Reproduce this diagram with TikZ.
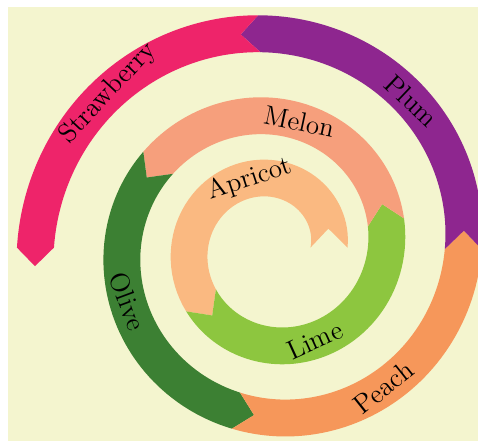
\documentclass[tikz,border=0pt]{standalone}
\usepackage{xcolor}
\usetikzlibrary{calc}
\definecolor{bgcream}{RGB}{244,245,207}
\definecolor{apricot}{HTML}{FAB981}
\definecolor{lime}{HTML}{8DC63F}
\definecolor{melon}{HTML}{F69F7C}
\definecolor{olive}{HTML}{3C8033}
\definecolor{peach}{HTML}{F6975A}
\definecolor{plum}{HTML}{8E268F}
\definecolor{strawberry}{HTML}{EE246A}
\tikzset{
  declare function={spr(\t)=56.6+0.132*\t+0.76*(\t/100)^2;},
  band/.style={draw=none},
  lbl/.style={font=\fontsize{13.5}{16}\selectfont,inner sep=0pt}
}
\begin{document}
\begin{tikzpicture}[x=0.5pt,y=0.5pt]
  \useasboundingbox (-272.4,-193.4) rectangle (205.6,247.6);
  % Background
  \fill[bgcream] (-264.4,-193.4) rectangle (205.6,240.6);

  % Spiral bands with chevron ends and their labels
  \foreach \sa/\sb/\col/\txt in {0/216.5/apricot/Apricot, 216.5/372.5/lime/Lime,
      372.5/503.4/melon/Melon, 503.4/617.4/olive/Olive, 617.4/719.5/peach/Peach,
      719.5/813.5/plum/Plum, 813.5/900/strawberry/Strawberry}{
    \pgfmathsetmacro\da{18.5/spr(\sa)*180/pi}
    \pgfmathsetmacro\db{18.5/spr(\sb)*180/pi}
    \pgfmathsetmacro\mid{(\sa+\sb)/2}
    \pgfmathsetmacro\rot{ifthenelse(sin(\mid)>0,\mid-90,\mid+90)}
    \fill[band,\col]
      plot[domain=\sa:\sb,samples=60,variable=\t] ({(spr(\t)+18.5)*cos(\t)},{(spr(\t)+18.5)*sin(\t)})
      -- ({spr(\sb+\db)*cos(\sb+\db)},{spr(\sb+\db)*sin(\sb+\db)})
      -- plot[domain=\sb:\sa,samples=60,variable=\t] ({(spr(\t)-18.5)*cos(\t)},{(spr(\t)-18.5)*sin(\t)})
      -- ({spr(\sa+\da)*cos(\sa+\da)},{spr(\sa+\da)*sin(\sa+\da)}) -- cycle;
    \node[lbl,rotate=\rot] (lab-\txt) at ({spr(\mid)*cos(\mid)},{spr(\mid)*sin(\mid)}) {\txt};
  }
\end{tikzpicture}
\end{document}
